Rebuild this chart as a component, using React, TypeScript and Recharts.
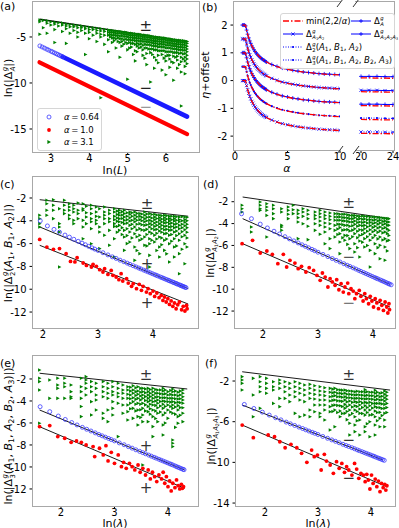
import React from 'react'
import { ComposedChart, Scatter, XAxis, YAxis, ReferenceLine } from 'recharts'

const FONT = '"DejaVu Sans", sans-serif'
const BLUE = '#0000ff'
const RED = '#ff0000'
const GREEN = '#008000'

// ---------- panel (a) ----------
const aUpper = [[2.7, -3.08], [6.58, -5.51]]
const aBlueOpenX = [2.71, 2.77, 2.83, 2.89, 2.94, 3.0, 3.04, 3.09, 3.14, 3.18, 3.22, 3.26, 3.3]
const aBlueOpenY = [-5.97, -6.09, -6.21, -6.33, -6.43, -6.55, -6.63, -6.73, -6.83, -6.91, -6.99, -7.07, -7.15]
const aBlueBand = [[3.3, -7.15], [6.55, -13.65]]
const aRedBand = [[2.7, -7.75], [6.55, -15.55]]
const aGreenCols: [number, number[]][] = [
  [2.71, [-3.15, -3.35, -4.7]],
  [2.8, [-3.2, -4.0]],
  [2.9, [-3.25, -3.5, -4.6]],
  [3.0, [-3.35, -3.7]],
  [3.1, [-3.4, -3.6, -4.2, -5.6]],
  [3.2, [-3.45, -3.8]],
  [3.3, [-3.5, -3.7, -4.4]],
  [3.4, [-3.6, -3.8, -4.1, -5.7]],
  [3.5, [-3.65, -3.9, -4.6]],
  [3.6, [-3.7, -3.9, -4.3]],
  [3.7, [-3.75, -4.0, -4.5, -5.0]],
  [3.8, [-3.8, -4.0, -4.3]],
  [3.9, [-3.9, -4.1, -4.6, -6.9]],
  [4.0, [-3.95, -4.2, -4.5, -5.2]],
  [4.1, [-4.0, -4.2, -4.8]],
  [4.2, [-4.05, -4.3, -4.6, -5.5]],
  [4.3, [-4.1, -4.35, -4.7, -5.0, -11.6]],
  [4.4, [-4.2, -4.4, -4.8, -5.8]],
  [4.5, [-4.25, -4.5, -4.8, -5.3, -6.6]],
  [4.6, [-4.3, -4.5, -4.8, -5.1, -5.6]],
  [4.7, [-4.35, -4.6, -4.85, -5.2, -6.2]],
  [4.8, [-4.4, -4.6, -4.9, -5.2, -5.6, -7.2]],
  [4.9, [-4.5, -4.7, -4.95, -5.3, -5.8]],
  [5.0, [-4.55, -4.75, -5.0, -5.3, -5.7, -6.4, -9.6]],
  [5.1, [-4.6, -4.8, -5.05, -5.35, -5.7, -6.1]],
  [5.2, [-4.65, -4.85, -5.1, -5.4, -5.8, -6.5, -7.6]],
  [5.3, [-4.7, -4.9, -5.15, -5.45, -5.8, -6.2]],
  [5.4, [-4.8, -5.0, -5.25, -5.5, -5.9, -6.4, -7.0]],
  [5.5, [-4.85, -5.05, -5.3, -5.55, -5.85, -6.2, -6.8, -8.0]],
  [5.6, [-4.9, -5.1, -5.35, -5.6, -5.9, -6.3, -6.7, -9.9]],
  [5.7, [-5.0, -5.2, -5.45, -5.7, -6.0, -6.4, -7.2, -8.4]],
  [5.8, [-5.05, -5.25, -5.5, -5.8, -6.1, -6.5, -7.0, -7.8]],
  [5.9, [-5.1, -5.3, -5.55, -5.8, -6.1, -6.5, -6.9, -8.6]],
  [6.0, [-5.15, -5.35, -5.6, -5.9, -6.2, -6.6, -7.1, -7.6, -9.1]],
  [6.1, [-5.2, -5.4, -5.65, -5.9, -6.2, -6.6, -7.0, -7.4, -8.3]],
  [6.2, [-5.3, -5.5, -5.75, -6.0, -6.3, -6.7, -7.1, -7.8, -9.7]],
  [6.3, [-5.35, -5.55, -5.8, -6.05, -6.35, -6.7, -7.1, -7.5, -8.4]],
  [6.4, [-5.4, -5.6, -5.85, -6.1, -6.4, -6.75, -7.2, -7.7, -8.8, -12.5]],
  [6.5, [-5.45, -5.65, -5.9, -6.15, -6.45, -6.8, -7.2, -7.6, -8.2, -9.0]],
  [6.55, [-5.5, -5.7, -6.0, -6.3, -6.6, -7.0, -7.4, -7.9]],
]
const aGreenDense: [number, number[]][] = [
  [4.55, [-4.3, -4.5, -4.75, -5.0]],
  [4.65, [-4.35, -4.55, -4.8, -5.1, -5.4]],
  [4.75, [-4.4, -4.6, -4.85, -5.1, -5.5]],
  [4.85, [-4.45, -4.65, -4.9, -5.2, -5.5, -6.0]],
  [4.95, [-4.5, -4.7, -4.95, -5.25, -5.6]],
  [5.05, [-4.6, -4.8, -5.05, -5.3, -5.6, -6.2]],
  [5.15, [-4.65, -4.85, -5.1, -5.35, -5.7, -6.9]],
  [5.25, [-4.7, -4.9, -5.15, -5.4, -5.7, -6.0, -6.6]],
  [5.35, [-4.75, -4.95, -5.2, -5.45, -5.75, -6.1]],
  [5.45, [-4.8, -5.0, -5.25, -5.5, -5.8, -6.2, -7.3]],
  [5.55, [-4.85, -5.05, -5.3, -5.55, -5.85, -6.3]],
  [5.65, [-4.95, -5.15, -5.4, -5.65, -5.95, -6.3, -6.9]],
  [5.75, [-5.0, -5.2, -5.45, -5.7, -6.0, -6.4, -7.5]],
  [5.85, [-5.05, -5.25, -5.5, -5.75, -6.05, -6.5]],
  [5.95, [-5.1, -5.3, -5.55, -5.8, -6.1, -6.5, -7.3]],
  [6.05, [-5.2, -5.4, -5.65, -5.9, -6.2, -6.6, -7.0]],
  [6.15, [-5.25, -5.45, -5.7, -5.95, -6.25, -6.6, -7.7]],
  [6.25, [-5.3, -5.5, -5.75, -6.0, -6.3, -6.7, -7.2]],
  [6.35, [-5.35, -5.55, -5.8, -6.1, -6.4, -6.8, -8.0]],
  [6.45, [-5.4, -5.6, -5.85, -6.15, -6.45, -6.85, -7.4]],
]
const aMarks = [
  { x: 5.47, y: -3.8, g: '±', c: '#222' },
  { x: 5.47, y: -10.58, g: '−', c: '#222' },
  { x: 5.47, y: -12.58, g: '−', c: '#999' },
]
const alphaLabels = ['0.64', '1.0', '3.1']

// ---------- panel (b) ----------
const bAlpha = [0.7, 0.8, 0.9, 1.0, 1.1, 1.2, 1.3, 1.4, 1.5, 1.6, 1.7, 1.8, 1.9, 2.0, 2.1, 2.2, 2.3, 2.4, 2.5, 2.6, 2.7, 2.8, 2.9, 3.0, 3.5, 4, 4.5, 5, 5.5, 6, 6.5, 7, 7.5, 8, 8.5, 9, 9.5, 10]
const bEtaBlue = [2.0, 2.0, 2.0, 1.97, 1.82, 1.67, 1.54, 1.43, 1.34, 1.25, 1.18, 1.11, 1.05, 1.0, 0.95, 0.91, 0.87, 0.83, 0.8, 0.77, 0.74, 0.72, 0.69, 0.67, 0.58, 0.51, 0.45, 0.41, 0.37, 0.34, 0.31, 0.29, 0.27, 0.25, 0.24, 0.23, 0.22, 0.21]
const bAlphaRed = [0.7, 0.8, 0.9, 1.0, 1.1, 1.2, 1.3, 1.4, 1.5, 1.7, 2.0, 2.3, 2.6, 3.0, 3.5, 4, 4.5, 5, 6, 7, 8, 9, 10]
const bEtaRed = [2, 2, 2, 2, 1.82, 1.67, 1.54, 1.43, 1.33, 1.18, 1.0, 0.87, 0.77, 0.67, 0.57, 0.5, 0.44, 0.4, 0.33, 0.29, 0.25, 0.22, 0.2]
const bAlphaFar = [20, 21, 22, 23, 24]
const bEtaFarBlue = [0.15, 0.15, 0.15, 0.14, 0.14]
const bEtaFarRed = [0.1, 0.095, 0.091, 0.087, 0.083]
const bOffsets = [0, -0.5, -1, -1.5, -2]

// ---------- panels (c)-(f): ln(lambda) grids for the blue points ----------
const gridC = [1.95, 2.08, 2.2, 2.3, 2.4, 2.48, 2.56, 2.64, 2.71, 2.77, 2.83, 2.89, 2.94, 3.0, 3.09, 3.18, 3.26, 3.33, 3.4, 3.47, 3.53, 3.58, 3.64, 3.69, 3.74, 3.78, 3.83, 3.87, 3.91, 3.95, 3.99, 4.03, 4.06, 4.09, 4.13, 4.16, 4.19, 4.22, 4.25, 4.28, 4.3, 4.33, 4.36, 4.38, 4.41, 4.43, 4.45, 4.48, 4.5, 4.52, 4.54, 4.56, 4.58, 4.6]
const gridDEF = [1.61, 1.79, 1.95, 2.08, 2.2, 2.3, 2.4, 2.48, 2.56, 2.64, 2.71, 2.77, 2.83, 2.89, 2.94, 3.0, 3.09, 3.18, 3.26, 3.33, 3.4, 3.47, 3.53, 3.58, 3.64, 3.69, 3.74, 3.78, 3.83, 3.87, 3.91, 3.95, 3.99, 4.03, 4.06, 4.09, 4.13, 4.16, 4.19, 4.22, 4.25, 4.28, 4.3, 4.33]

// ---------- panel (c) ----------
const cBlueY = [-4.0, -4.45, -4.75, -5.0, -5.25, -5.43, -5.62, -5.8, -5.96, -6.1, -6.24, -6.37, -6.48, -6.6, -6.8, -6.99, -7.16, -7.3, -7.45, -7.59, -7.71, -7.82, -7.94, -8.04, -8.14, -8.22, -8.32, -8.4, -8.48, -8.56, -8.64, -8.72, -8.78, -8.84, -8.92, -8.98, -9.04, -9.1, -9.16, -9.22, -9.26, -9.32, -9.38, -9.42, -9.48, -9.52, -9.56, -9.62, -9.66, -9.7, -9.74, -9.78, -9.82, -9.86]
const cFits = [[[1.94, -2.15], [4.64, -3.6]], [[1.94, -4.54], [4.64, -9.95]], [[1.94, -6.15], [4.64, -11.3]]]
const cRed = [[1.94, -5.63], [2.07, -6.3], [2.19, -6.5], [2.3, -6.44], [2.42, -6.88], [2.5, -7.56], [2.58, -7.61], [2.62, -7.23], [2.73, -7.7], [2.79, -7.91], [2.88, -8.05], [2.91, -7.82], [2.97, -7.99], [3.03, -8.29], [3.09, -8.49], [3.12, -8.2], [3.18, -8.7], [3.24, -8.35], [3.27, -8.78], [3.33, -8.93], [3.38, -9.16], [3.42, -8.64], [3.45, -9.28], [3.52, -9.08], [3.55, -9.46], [3.61, -9.75], [3.64, -9.51], [3.7, -9.95], [3.75, -9.57], [3.79, -10.1], [3.82, -9.75], [3.88, -10.25], [3.91, -9.95], [3.95, -10.39], [4.0, -10.16], [4.03, -10.63], [4.07, -10.33], [4.11, -10.74], [4.15, -10.54], [4.18, -10.98], [4.21, -10.68], [4.24, -11.12], [4.27, -10.83], [4.3, -11.33], [4.33, -11.03], [4.36, -11.5], [4.39, -11.21], [4.42, -11.71], [4.45, -11.36], [4.48, -11.12], [4.52, -11.8], [4.55, -11.5], [4.58, -11.91], [4.61, -11.42], [4.62, -11.71]]
const cGreenCols: [number, number[]][] = [
  [1.94, [-3.52, -3.81, -4.25, -4.54]],
  [2.07, [-2.2, -2.5, -3.08, -3.52]],
  [2.19, [-2.15, -2.64, -3.08, -3.81]],
  [2.3, [-2.94, -4.25, -4.54, -4.98, -8.05]],
  [2.39, [-2.2, -2.64, -3.08, -3.37]],
  [2.48, [-2.5, -2.79, -3.08, -3.52, -3.81]],
  [2.56, [-2.64, -2.94, -3.23, -3.96, -4.25]],
  [2.64, [-2.44, -3.08, -3.37, -3.81]],
  [2.73, [-2.5, -2.94, -3.08, -3.96, -4.54, -5.57]],
  [2.79, [-2.73, -3.3, -3.67, -4.25]],
  [2.88, [-2.64, -2.94, -3.37, -3.81, -4.09, -4.69, -6.01]],
  [2.97, [-2.79, -3.23, -3.61, -3.96, -4.25]],
  [3.03, [-2.94, -3.67, -4.54, -4.98, -6.44]],
  [3.12, [-2.79, -3.23, -3.52, -3.81, -4.25, -5.27]],
  [3.21, [-3.08, -3.37, -3.81, -4.09, -4.84, -6.15]],
  [3.3, [-2.94, -3.23, -3.61, -3.9, -4.25, -4.49, -5.57, -7.18]],
  [3.39, [-3.08, -3.3, -3.52, -3.81, -4.09, -4.4, -4.84]],
  [3.48, [-3.08, -3.37, -3.67, -3.96, -4.25, -4.84, -5.42, -6.59]],
  [3.58, [-3.23, -3.43, -3.73, -4.02, -4.4, -4.98, -5.86]],
  [3.67, [-3.23, -3.52, -3.81, -4.09, -4.54, -5.13, -6.3, -7.47]],
  [3.76, [-3.37, -3.61, -3.9, -4.25, -4.69, -5.27, -5.71, -6.88]],
  [3.85, [-3.23, -3.52, -3.81, -4.09, -4.4, -4.84, -5.42, -6.15]],
  [3.94, [-3.37, -3.67, -3.96, -4.25, -4.54, -4.98, -5.57, -6.01, -7.03, -8.05]],
  [4.03, [-3.43, -3.67, -3.9, -4.19, -4.49, -4.78, -5.27, -5.86]],
  [4.12, [-3.52, -3.73, -3.96, -4.25, -4.54, -4.9, -5.42, -6.3, -7.18]],
  [4.21, [-3.52, -3.73, -3.96, -4.19, -4.49, -4.78, -5.13, -5.71, -6.59]],
  [4.3, [-3.61, -3.81, -4.02, -4.25, -4.54, -4.84, -5.27, -6.01, -7.61]],
  [4.39, [-3.61, -3.81, -4.02, -4.31, -4.6, -4.98, -5.57, -6.3, -7.18]],
  [4.48, [-3.67, -3.9, -4.09, -4.4, -4.69, -5.13, -5.71, -6.88, -8.64]],
  [4.58, [-3.67, -3.9, -4.13, -4.43, -4.78, -5.27, -6.01, -7.76]],
]
const cGreenDense: [number, number[]][] = [
  [3.35, [-3.15, -3.45, -3.75, -4.05, -4.5, -5.0]],
  [3.44, [-3.2, -3.5, -3.8, -4.15, -4.6, -5.2]],
  [3.53, [-3.3, -3.6, -3.9, -4.2, -4.7, -5.3, -6.0]],
  [3.62, [-3.3, -3.6, -3.95, -4.3, -4.7, -5.5]],
  [3.71, [-3.35, -3.65, -3.95, -4.3, -4.8, -5.4, -6.6]],
  [3.8, [-3.4, -3.7, -4.0, -4.35, -4.8, -5.6]],
  [3.89, [-3.4, -3.7, -4.0, -4.35, -4.75, -5.2, -6.2]],
  [3.98, [-3.45, -3.75, -4.05, -4.35, -4.7, -5.1, -5.7]],
  [4.07, [-3.5, -3.8, -4.1, -4.4, -4.75, -5.1, -5.6, -6.6]],
  [4.16, [-3.55, -3.85, -4.1, -4.4, -4.7, -5.0, -5.5, -6.1]],
  [4.25, [-3.55, -3.85, -4.15, -4.45, -4.75, -5.1, -5.6, -6.9]],
  [4.34, [-3.6, -3.9, -4.2, -4.5, -4.8, -5.2, -5.8]],
  [4.43, [-3.65, -3.95, -4.25, -4.55, -4.9, -5.3, -6.2]],
  [4.53, [-3.65, -4.0, -4.3, -4.6, -4.95, -5.4, -6.5]],
  [4.62, [-3.7, -4.0, -4.3, -4.6, -5.0, -5.5, -6.3]],
]
const cMarks = [
  { x: 3.89, y: -2.5, g: '±', c: '#333' },
  { x: 3.89, y: -7.82, g: '+', c: '#333' },
  { x: 3.89, y: -11.25, g: '+', c: '#333' },
]

// ---------- panel (d) ----------
const dBlueY = [-3.1, -3.55, -4.05, -4.4, -4.7, -4.95, -5.2, -5.4, -5.58, -5.77, -5.94, -6.08, -6.22, -6.36, -6.48, -6.62, -6.82, -7.02, -7.2, -7.36, -7.51, -7.67, -7.81, -7.92, -8.05, -8.16, -8.28, -8.37, -8.48, -8.57, -8.66, -8.75, -8.84, -8.93, -9.0, -9.06, -9.15, -9.22, -9.28, -9.35, -9.42, -9.49, -9.53, -9.6]
const dFits = [[[1.63, -1.57], [4.31, -3.55]], [[1.63, -3.55], [4.31, -9.56]], [[1.63, -5.84], [4.31, -11.64]]]
const dRed = [[1.62, -5.84], [1.81, -5.53], [1.95, -6.69], [2.07, -6.51], [2.17, -6.81], [2.27, -7.67], [2.37, -6.81], [2.43, -7.97], [2.49, -7.36], [2.58, -7.61], [2.64, -8.12], [2.7, -7.91], [2.78, -8.43], [2.84, -8.03], [2.92, -8.28], [2.98, -8.73], [3.04, -9.19], [3.08, -8.52], [3.13, -8.89], [3.18, -9.8], [3.22, -9.04], [3.26, -9.34], [3.31, -9.65], [3.34, -9.13], [3.38, -10.05], [3.42, -9.5], [3.46, -10.26], [3.49, -9.8], [3.54, -9.44], [3.56, -10.41], [3.6, -9.95], [3.64, -10.17], [3.67, -10.87], [3.7, -10.41], [3.75, -10.11], [3.78, -10.65], [3.82, -11.08], [3.85, -10.41], [3.88, -10.87], [3.92, -11.33], [3.95, -10.65], [3.98, -11.08], [4.01, -11.63], [4.04, -10.87], [4.07, -11.26], [4.1, -11.78], [4.13, -11.02], [4.16, -11.48], [4.19, -11.94], [4.22, -11.17], [4.25, -11.63], [4.27, -12.18], [4.29, -11.33], [4.3, -11.87]]
const dGreenCols: [number, number[]][] = [
  [1.62, [-2.33, -2.64, -2.94]],
  [1.79, [-4.31, -4.77]],
  [1.95, [-2.03, -2.33, -2.64, -2.79]],
  [2.07, [-2.18, -2.48, -2.79, -3.25, -5.23]],
  [2.19, [-2.33, -2.64, -3.09, -3.55]],
  [2.34, [-2.64, -2.94, -4.16, -4.31, -4.62]],
  [2.46, [-2.48, -2.79, -3.15, -3.55]],
  [2.55, [-2.33, -2.73, -3.09]],
  [2.64, [-2.79, -3.09, -3.46, -3.86, -5.38]],
  [2.73, [-2.64, -2.94, -3.34, -4.01]],
  [2.82, [-2.79, -3.15, -3.55, -4.25, -5.47]],
  [2.95, [-2.94, -3.25, -3.55, -4.01, -4.62]],
  [3.04, [-2.79, -3.09, -3.4, -3.76, -4.16, -4.98]],
  [3.13, [-2.94, -3.25, -3.55, -3.95, -4.31, -4.77, -5.84]],
  [3.22, [-3.03, -3.34, -3.64, -4.01, -4.47, -5.38, -6.29]],
  [3.31, [-3.09, -3.4, -3.7, -4.16, -4.62, -5.23]],
  [3.4, [-3.15, -3.4, -3.7, -4.07, -4.37, -4.92, -5.69, -6.75]],
  [3.49, [-3.15, -3.46, -3.76, -4.16, -4.56, -5.08, -5.53]],
  [3.58, [-3.25, -3.55, -3.86, -4.25, -4.68, -5.38, -6.29]],
  [3.67, [-3.25, -3.46, -3.76, -4.07, -4.47, -4.92, -5.84, -6.6]],
  [3.76, [-3.34, -3.55, -3.86, -4.16, -4.56, -5.08, -5.59, -7.06]],
  [3.85, [-3.34, -3.58, -3.86, -4.16, -4.47, -4.86, -5.38, -6.14]],
  [3.95, [-3.4, -3.64, -3.89, -4.19, -4.56, -4.98, -5.53, -6.45, -7.97]],
  [4.04, [-3.4, -3.64, -3.92, -4.25, -4.62, -5.08, -5.84, -6.75]],
  [4.13, [-3.46, -3.7, -3.95, -4.31, -4.68, -5.23, -5.99, -7.21]],
  [4.22, [-3.52, -3.76, -4.01, -4.37, -4.77, -5.38, -6.14, -7.36]],
  [4.29, [-3.55, -3.86, -4.16, -4.62, -5.08, -5.53]],
]
const dGreenDense: [number, number[]][] = [
  [3.36, [-3.1, -3.4, -3.7, -4.05, -4.5, -5.0]],
  [3.45, [-3.15, -3.45, -3.75, -4.1, -4.6, -5.3]],
  [3.54, [-3.2, -3.5, -3.8, -4.15, -4.55, -5.1, -5.9]],
  [3.63, [-3.25, -3.55, -3.85, -4.2, -4.6, -5.2]],
  [3.72, [-3.3, -3.6, -3.9, -4.25, -4.7, -5.3, -6.2]],
  [3.81, [-3.3, -3.6, -3.9, -4.2, -4.6, -5.0, -5.7]],
  [3.9, [-3.35, -3.65, -3.95, -4.3, -4.7, -5.2, -6.0]],
  [4.0, [-3.4, -3.7, -4.0, -4.35, -4.75, -5.3]],
  [4.09, [-3.45, -3.75, -4.05, -4.4, -4.8, -5.4, -6.2]],
  [4.18, [-3.5, -3.8, -4.1, -4.45, -4.85, -5.5]],
  [4.26, [-3.55, -3.85, -4.15, -4.5, -4.9, -5.6, -6.5]],
]
const dMarks = [
  { x: 3.56, y: -2.15, g: '±', c: '#333' },
  { x: 3.56, y: -7.03, g: '−', c: '#555' },
  { x: 3.56, y: -11.3, g: '−', c: '#777' },
]

// ---------- panel (e) ----------
const eBlueY = [-4.52, -4.97, -5.37, -5.68, -5.96, -6.18, -6.4, -6.57, -6.73, -6.9, -7.05, -7.17, -7.29, -7.41, -7.51, -7.63, -7.81, -7.98, -8.15, -8.29, -8.44, -8.58, -8.7, -8.8, -8.92, -9.02, -9.12, -9.2, -9.3, -9.38, -9.46, -9.54, -9.62, -9.7, -9.76, -9.82, -9.9, -9.97, -10.03, -10.09, -10.15, -10.21, -10.25]
const eFits = [[[1.6, -1.48], [4.36, -2.91]], [[1.6, -4.82], [4.31, -10.27]], [[1.6, -6.34], [4.31, -11.94]]]
const eRed = [[1.6, -6.33], [1.79, -6.24], [1.94, -7.24], [2.07, -7.39], [2.19, -7.76], [2.29, -7.64], [2.38, -7.76], [2.47, -8.0], [2.6, -8.15], [2.63, -9.06], [2.72, -8.3], [2.79, -8.91], [2.84, -8.06], [2.88, -9.45], [2.94, -8.67], [3.0, -9.67], [3.07, -8.91], [3.13, -9.97], [3.17, -9.58], [3.22, -10.12], [3.28, -9.67], [3.33, -9.97], [3.38, -10.27], [3.44, -9.82], [3.48, -10.48], [3.53, -10.12], [3.58, -10.73], [3.63, -10.27], [3.67, -11.09], [3.71, -10.48], [3.75, -10.88], [3.79, -11.33], [3.83, -10.73], [3.88, -11.09], [3.91, -10.48], [3.94, -11.48], [3.97, -10.88], [4.0, -11.79], [4.03, -11.27], [4.06, -12.18], [4.09, -11.48], [4.13, -11.88], [4.16, -11.18], [4.19, -11.7], [4.22, -12.0], [4.25, -11.58], [4.27, -11.94], [4.29, -11.79]]
const eGreenCols: [number, number[]][] = [
  [1.6, [-1.18, -1.94, -2.24, -3.0, -6.03]],
  [1.79, [-2.09, -3.76]],
  [1.94, [-1.94, -2.55, -2.85, -3.76]],
  [2.07, [-1.94, -2.39, -2.7, -3.76]],
  [2.19, [-2.55, -3.15, -3.61, -3.76]],
  [2.38, [-1.94, -2.7, -3.15, -3.76, -4.5, -5.42]],
  [2.47, [-1.79, -2.09, -2.39, -2.85, -3.45]],
  [2.57, [-2.24, -2.7, -3.15, -4.06, -5.27]],
  [2.66, [-2.39, -2.85, -3.45, -3.91, -4.82]],
  [2.79, [-2.24, -2.7, -3.15, -3.61, -5.12, -5.58]],
  [2.88, [-2.39, -2.85, -3.3, -3.76, -4.82, -5.88]],
  [2.97, [-2.24, -2.7, -3.15, -3.45, -4.06, -4.67, -5.27]],
  [3.07, [-2.39, -2.85, -3.3, -3.61, -4.21, -7.24]],
  [3.16, [-2.55, -3.0, -3.3, -3.76, -4.36, -5.12]],
  [3.25, [-2.7, -3.0, -3.39, -3.76, -4.36, -4.97, -5.73]],
  [3.35, [-2.61, -3.0, -3.3, -3.7, -4.06, -4.67, -5.58]],
  [3.44, [-2.7, -3.09, -3.39, -3.76, -4.21, -4.82, -5.42, -6.18]],
  [3.53, [-2.85, -3.15, -3.45, -3.76, -4.21, -4.67, -5.27, -5.88, -9.82]],
  [3.63, [-2.85, -3.15, -3.45, -3.76, -4.06, -4.5, -4.97, -5.88]],
  [3.72, [-2.85, -3.15, -3.45, -3.76, -4.06, -4.36, -4.82, -5.42, -6.33, -7.24]],
  [3.81, [-3.0, -3.3, -3.61, -3.91, -4.21, -4.61, -5.12, -5.88]],
  [3.91, [-2.85, -3.09, -3.39, -3.7, -4.0, -4.3, -4.67, -5.27, -6.18, -7.09]],
  [4.0, [-3.15, -3.45, -3.76, -4.06, -4.36, -4.82, -5.58]],
  [4.09, [-2.91, -3.15, -3.45, -3.76, -4.06, -4.36, -4.67, -5.12, -7.55, -7.85, -8.15]],
  [4.19, [-3.21, -3.52, -3.82, -4.12, -4.42, -4.82, -5.42, -6.03]],
  [4.28, [-3.0, -3.3, -3.61, -3.91, -4.21, -4.61, -5.12, -5.88]],
]
const eGreenDense: [number, number[]][] = [
  [3.3, [-2.75, -3.1, -3.45, -3.8, -4.2, -4.7]],
  [3.4, [-2.8, -3.15, -3.5, -3.85, -4.3, -4.9]],
  [3.49, [-2.85, -3.2, -3.55, -3.9, -4.3, -4.8, -5.5]],
  [3.58, [-2.9, -3.25, -3.6, -3.95, -4.35, -4.9]],
  [3.67, [-2.95, -3.3, -3.6, -3.95, -4.3, -4.7, -5.2]],
  [3.77, [-2.95, -3.3, -3.65, -4.0, -4.4, -4.9, -5.6]],
  [3.86, [-3.0, -3.35, -3.7, -4.05, -4.45, -5.0]],
  [3.95, [-3.0, -3.35, -3.7, -4.05, -4.5, -5.1, -6.0]],
  [4.05, [-3.05, -3.4, -3.75, -4.1, -4.5, -5.0]],
  [4.14, [-3.1, -3.45, -3.8, -4.15, -4.55, -5.2, -6.4]],
  [4.23, [-3.1, -3.45, -3.8, -4.15, -4.6, -5.3]],
]
const eMarks = [
  { x: 3.59, y: -1.64, g: '±', c: '#333' },
  { x: 3.59, y: -8.1, g: '+', c: '#333' },
  { x: 3.59, y: -11.9, g: '+', c: '#333' },
]

// ---------- panel (f) ----------
const fBlueY = [-4.3, -4.7, -5.06, -5.35, -5.61, -5.82, -6.04, -6.21, -6.37, -6.53, -6.67, -6.8, -6.92, -7.04, -7.14, -7.26, -7.45, -7.63, -7.79, -7.93, -8.07, -8.22, -8.34, -8.44, -8.56, -8.66, -8.77, -8.85, -8.95, -9.03, -9.11, -9.19, -9.27, -9.35, -9.41, -9.48, -9.56, -9.62, -9.68, -9.74, -9.8]
const fFits = [[[1.57, -1.09], [4.36, -2.89]], [[1.57, -4.36], [4.23, -9.77]], [[1.57, -6.33], [4.3, -12.4]]]
const fRed = [[1.57, -6.33], [1.78, -7.57], [2.06, -7.31], [2.18, -7.48], [2.28, -7.97], [2.38, -8.56], [2.49, -8.23], [2.6, -8.56], [2.69, -9.11], [2.79, -10.0], [2.88, -8.79], [2.93, -9.44], [2.99, -9.28], [3.06, -10.75], [3.12, -9.21], [3.16, -9.87], [3.23, -10.26], [3.29, -11.08], [3.35, -9.93], [3.4, -10.59], [3.45, -10.1], [3.5, -10.98], [3.54, -10.43], [3.58, -10.75], [3.64, -11.25], [3.69, -10.1], [3.73, -10.66], [3.77, -11.57], [3.81, -11.08], [3.86, -11.25], [3.89, -11.9], [3.92, -11.18], [3.95, -11.74], [3.98, -12.62], [4.01, -11.25], [4.04, -12.07], [4.08, -11.64], [4.11, -12.39], [4.14, -11.84], [4.17, -12.88], [4.2, -12.07], [4.23, -12.49], [4.26, -12.16], [4.28, -12.72], [4.3, -12.3]]
const fGreenCols: [number, number[]][] = [
  [1.57, [-1.57, -1.9, -2.23, -2.89]],
  [1.78, [-1.74, -3.38, -5.51]],
  [1.91, [-1.57, -2.07, -2.56, -3.05, -4.69]],
  [2.03, [-1.74, -2.23, -2.72, -3.21]],
  [2.16, [-2.07, -2.56, -2.89, -4.2]],
  [2.28, [-1.9, -2.23, -2.72, -3.71, -4.52]],
  [2.38, [-2.07, -2.56, -3.05, -3.71]],
  [2.47, [-2.23, -2.72, -3.38, -4.03]],
  [2.57, [-2.07, -2.56, -3.05, -3.54, -5.18]],
  [2.66, [-2.23, -2.72, -3.21, -3.87, -5.51]],
  [2.75, [-2.39, -2.89, -3.38, -4.03, -5.35]],
  [2.85, [-2.33, -2.72, -3.21, -3.71, -4.85, -5.51]],
  [2.94, [-2.46, -2.89, -3.31, -3.77, -4.36, -5.02]],
  [3.04, [-2.56, -2.98, -3.38, -3.87, -4.36, -5.18, -5.51]],
  [3.13, [-2.66, -3.05, -3.44, -3.87, -4.36, -4.85, -5.84]],
  [3.23, [-2.72, -3.11, -3.54, -3.97, -4.52, -5.02, -6.82]],
  [3.32, [-2.72, -3.11, -3.44, -3.87, -4.36, -4.85, -6.49]],
  [3.42, [-2.89, -3.21, -3.54, -3.97, -4.43, -4.95, -5.51]],
  [3.51, [-2.89, -3.21, -3.54, -3.87, -4.3, -4.69, -5.18]],
  [3.6, [-2.98, -3.31, -3.64, -3.97, -4.36, -4.85, -5.35, -6.16, -7.31]],
  [3.7, [-3.05, -3.38, -3.71, -4.03, -4.43, -4.85, -5.51, -6.33, -6.98]],
  [3.79, [-3.05, -3.38, -3.71, -4.03, -4.36, -4.75, -5.18, -5.84, -7.31]],
  [3.89, [-2.85, -3.11, -3.44, -3.77, -4.1, -4.43, -4.85, -5.35, -6.49, -6.98]],
  [3.98, [-3.11, -3.44, -3.77, -4.1, -4.43, -4.85, -5.35, -6.0, -7.48]],
  [4.08, [-2.92, -3.21, -3.54, -3.87, -4.2, -4.52, -4.95, -5.51, -6.33, -7.31]],
  [4.17, [-3.21, -3.54, -3.87, -4.2, -4.62, -5.08, -5.67, -6.49]],
  [4.26, [-2.98, -3.31, -3.64, -3.97, -4.3, -4.69, -5.18, -5.84, -6.49]],
]
const fGreenDense: [number, number[]][] = [
  [3.28, [-2.8, -3.15, -3.5, -3.9, -4.4, -5.0]],
  [3.37, [-2.85, -3.2, -3.55, -3.95, -4.4, -5.1]],
  [3.46, [-2.9, -3.25, -3.6, -4.0, -4.5, -5.2]],
  [3.55, [-2.95, -3.3, -3.65, -4.05, -4.5, -5.0, -5.8]],
  [3.65, [-3.0, -3.35, -3.7, -4.1, -4.55, -5.2]],
  [3.74, [-3.0, -3.35, -3.7, -4.1, -4.5, -5.0, -5.9]],
  [3.84, [-3.05, -3.4, -3.75, -4.15, -4.6, -5.2]],
  [3.93, [-3.05, -3.4, -3.75, -4.15, -4.6, -5.1, -6.2]],
  [4.03, [-3.1, -3.45, -3.8, -4.2, -4.65, -5.3]],
  [4.12, [-3.1, -3.45, -3.8, -4.2, -4.6, -5.1, -5.9]],
  [4.21, [-3.15, -3.5, -3.85, -4.25, -4.7, -5.4]],
  [4.3, [-3.1, -3.45, -3.8, -4.2, -4.6, -5.1]],
]
const fMarks = [
  { x: 3.58, y: -1.4, g: '±', c: '#333' },
  { x: 3.58, y: -7.8, g: '−', c: '#333' },
  { x: 3.58, y: -11.5, g: '−', c: '#333' },
]

// ---------- helpers ----------
type P = { x: number; y: number }
const zip = (xs: number[], ys: number[], dy = 0): P[] => xs.map((x, i) => ({ x, y: ys[i] + dy }))
const pairs = (p: number[][]): P[] => p.map(([x, y]) => ({ x, y }))
const cols = (c: [number, number[]][]): P[] => c.flatMap(([x, ys]) => ys.map((y) => ({ x, y })))

const openCircle = (p: any) => <circle cx={p.cx} cy={p.cy} r={2} fill="none" stroke="#3a3aff" strokeWidth={0.8} />
const redDot = (p: any) => <circle cx={p.cx} cy={p.cy} r={1.9} fill={RED} />
const greenTri = (p: any) => (
  <polygon points={`${p.cx - 1.5},${p.cy - 1.8} ${p.cx + 1.9},${p.cy} ${p.cx - 1.5},${p.cy + 1.8}`} fill={GREEN} />
)
const noDot = () => <g />
const plusMark = (p: any) => (
  <path d={`M${p.cx - 2},${p.cy}H${p.cx + 2}M${p.cx},${p.cy - 2}V${p.cy + 2}`} stroke={BLUE} strokeWidth={0.8} />
)
const xMark = (p: any) => (
  <path d={`M${p.cx - 1.6},${p.cy - 1.6}L${p.cx + 1.6},${p.cy + 1.6}M${p.cx - 1.6},${p.cy + 1.6}L${p.cx + 1.6},${p.cy - 1.6}`} stroke={BLUE} strokeWidth={0.8} />
)
const dotMark = (p: any) => <circle cx={p.cx} cy={p.cy} r={1.1} fill={BLUE} />
const glyph = (p: any) => {
  const d = p.payload ?? p
  return (
    <text x={p.cx} y={p.cy} textAnchor="middle" dominantBaseline="central" fontSize={15} fill={d.c} stroke="none" fontFamily={FONT}>
      {d.g}
    </text>
  )
}

type PanelProps = {
  x0: number
  y0: number
  x1: number
  y1: number
  xDomain: [number, number]
  yDomain: [number, number]
  xTicks: number[]
  yTicks?: number[]
  frame?: string
  children?: React.ReactNode
}

function Panel({ x0, y0, x1, y1, xDomain, yDomain, xTicks, yTicks, frame = 'tlbr', children }: PanelProps) {
  const yw = yTicks ? 30 : 0
  const xh = 16
  const mr = 9
  const tick = { fontSize: 10, fill: '#000', fontFamily: FONT }
  const bw = (s: string) => (frame.includes(s) ? 1.3 : 0)
  return (
    <div style={{ position: 'absolute', left: x0 - yw, top: y0 - 2 }}>
      <ComposedChart width={x1 - x0 + yw + mr} height={y1 - y0 + xh + 2} margin={{ top: 2, right: mr, bottom: 0, left: 0 }}>
        <XAxis dataKey="x" type="number" domain={xDomain} ticks={xTicks} allowDataOverflow interval={0} height={xh}
          axisLine={false} tickSize={3} tickMargin={0} tickLine={{ stroke: '#000' }} tick={tick} />
        <YAxis dataKey="y" type="number" domain={yDomain} ticks={yTicks} allowDataOverflow interval={0} width={yw}
          hide={!yTicks} axisLine={false} tickSize={3.5} tickMargin={3} tickLine={{ stroke: '#000' }} tick={tick} />
        {children}
      </ComposedChart>
      <div
        style={{
          position: 'absolute',
          left: yw - 0.6,
          top: 2 - 0.6,
          width: x1 - x0 + 1.2,
          height: y1 - y0 + 1.2,
          boxSizing: 'border-box',
          borderStyle: 'solid',
          borderColor: '#a8a8a8',
          borderWidth: `${bw('t')}px ${bw('r')}px ${bw('b')}px ${bw('l')}px`,
          pointerEvents: 'none',
        }}
      />
    </div>
  )
}

// series for the four lambda panels
function lambdaSeries(grid: number[], blueY: number[], red: number[][], green: P[], fits: number[][][], marks: any[]) {
  return [
    <Scatter key="g" data={green} shape={greenTri} isAnimationActive={false} />,
    <Scatter key="b" data={zip(grid.slice(0, blueY.length), blueY)} shape={openCircle} isAnimationActive={false} />,
    <Scatter key="r" data={pairs(red)} shape={redDot} isAnimationActive={false} />,
    ...fits.map((f, i) => (
      <ReferenceLine key={'f' + i} segment={pairs(f)} stroke="#000" strokeWidth={0.9} ifOverflow="visible" />
    )),
    <Scatter key="m" data={marks} shape={glyph} isAnimationActive={false} />,
  ]
}

// math-like text helpers
const Sub = ({ children }: { children: React.ReactNode }) => (
  <span style={{ fontSize: '0.7em', position: 'relative', top: '0.25em' }}>{children}</span>
)
const SS = ({ sup, sub }: { sup: React.ReactNode; sub: React.ReactNode }) => (
  <span style={{ display: 'inline-block', position: 'relative', fontSize: '0.62em', lineHeight: 1, marginLeft: 0.5 }}>
    <span style={{ position: 'absolute', left: 0, top: '-0.7em' }}>{sup}</span>
    <span style={{ position: 'relative', top: '0.4em' }}>{sub}</span>
  </span>
)
const I = ({ children }: { children: React.ReactNode }) => <i>{children}</i>
const A = (n: number) => (
  <>
    <I>A</I>
    <Sub>{n}</Sub>
  </>
)
const B = (n: number) => (
  <>
    <I>B</I>
    <Sub>{n}</Sub>
  </>
)

function YLabel({ cx, cy, size = 11, children }: { cx: number; cy: number; size?: number; children: React.ReactNode }) {
  return (
    <div style={{ position: 'absolute', left: cx, top: cy, transform: 'translate(-50%, -50%) rotate(-90deg)', whiteSpace: 'nowrap', fontSize: size, lineHeight: 1, fontFamily: FONT }}>
      {children}
    </div>
  )
}
function Label({ x, y, size = 11, children }: { x: number; y: number; size?: number; children: React.ReactNode }) {
  return (
    <div style={{ position: 'absolute', left: x, top: y, transform: 'translate(-50%, -50%)', whiteSpace: 'nowrap', fontSize: size, lineHeight: 1, fontFamily: FONT }}>
      {children}
    </div>
  )
}
function Tag({ x, y, t }: { x: number; y: number; t: string }) {
  return <div style={{ position: 'absolute', left: x, top: y, fontSize: 11, lineHeight: 1, fontFamily: FONT }}>{t}</div>
}

const bMarkers = [plusMark, xMark, plusMark, dotMark, xMark]
const bDash = ['', '', '', '1 1.5', '1 1.5']

const bLegendRows = [
  { x: 2, y: 2, m: 'red', t: <>min(2,2/<I>α</I>)</> },
  { x: 70, y: 2, m: 'plus', t: <>Δ<SS sup={<I>g</I>} sub={<I>A</I>} /></> },
  { x: 2, y: 15, m: 'x', t: <>Δ<SS sup={<I>g</I>} sub={<>{A(1)}{A(2)}</>} /></> },
  { x: 70, y: 15, m: 'plus', t: <>Δ<SS sup={<I>g</I>} sub={<>{A(1)}{A(2)}{A(3)}</>} /></> },
  { x: 2, y: 28, m: 'dot', t: <>Δ<SS sup={<I>g</I>} sub="2" />({A(1)}, {B(1)}, {A(2)})</> },
  { x: 2, y: 41, m: 'dot', t: <>Δ<SS sup={<I>g</I>} sub="3" />({A(1)}, {B(1)}, {A(2)}, {B(2)}, {A(3)})</> },
]

export default function App() {
  return (
    <div style={{ position: 'absolute', left: 0, top: 0, width: 399, height: 528, background: '#fff', fontFamily: FONT, overflow: 'hidden' }}>
      {/* (a) */}
      <Panel x0={33} y0={2} x1={199} y1={152} xDomain={[2.53, 6.86]} yDomain={[-17.5, -1.2]} xTicks={[3, 4, 5, 6]} yTicks={[-15, -10, -5]}>
        <Scatter data={[...cols(aGreenCols), ...cols(aGreenDense)]} shape={greenTri} isAnimationActive={false} />
        <Scatter data={pairs(aBlueBand)} shape={noDot} line={{ stroke: '#1a1aff', strokeWidth: 4.6, strokeLinecap: 'round' }} isAnimationActive={false} />
        <Scatter data={zip(aBlueOpenX, aBlueOpenY)} shape={openCircle} isAnimationActive={false} />
        <Scatter data={pairs(aRedBand)} shape={noDot} line={{ stroke: RED, strokeWidth: 4.2, strokeLinecap: 'round' }} isAnimationActive={false} />
        <ReferenceLine segment={pairs(aUpper)} stroke="#000" strokeWidth={1.4} ifOverflow="visible" />
        <Scatter data={aMarks} shape={glyph} isAnimationActive={false} />
      </Panel>

      {/* (b) left part */}
      <Panel x0={234} y0={2} x1={340} y1={150} xDomain={[-0.1, 10]} yDomain={[-2.5, 2.83]} xTicks={[0, 5, 10]} yTicks={[-2, -1, 0, 1, 2]} frame="tlb">
        {bOffsets.map((o, i) => (
          <Scatter key={'bb' + i} data={zip(bAlpha, bEtaBlue, o)} shape={bMarkers[i]} line={{ stroke: BLUE, strokeWidth: 1, strokeDasharray: bDash[i] }} isAnimationActive={false} />
        ))}
        {bOffsets.map((o, i) => (
          <Scatter key={'br' + i} data={zip(bAlphaRed, bEtaRed, o)} shape={noDot} line={{ stroke: RED, strokeWidth: 1.3, strokeDasharray: '6 2 1.5 2' }} isAnimationActive={false} />
        ))}
      </Panel>
      {/* (b) right part */}
      <Panel x0={356} y0={2} x1={394} y1={150} xDomain={[19.375, 24.125]} yDomain={[-2.5, 2.83]} xTicks={[20, 24]} frame="trb">
        {bOffsets.map((o, i) => (
          <Scatter key={'fb' + i} data={zip(bAlphaFar, bEtaFarBlue, o)} shape={bMarkers[i]} line={{ stroke: BLUE, strokeWidth: 1, strokeDasharray: bDash[i] }} isAnimationActive={false} />
        ))}
        {bOffsets.map((o, i) => (
          <Scatter key={'fr' + i} data={zip(bAlphaFar, bEtaFarRed, o)} shape={noDot} line={{ stroke: RED, strokeWidth: 1.3, strokeDasharray: '6 2 1.5 2' }} isAnimationActive={false} />
        ))}
      </Panel>
      <svg style={{ position: 'absolute', left: 330, top: 0 }} width={40} height={160}>
        {[[10, 3], [26, 3], [10, 150], [26, 150]].map(([x, y], i) => (
          <line key={i} x1={x - 3} y1={y + 4} x2={x + 3} y2={y - 4} stroke="#333" strokeWidth={1} />
        ))}
      </svg>

      {/* (c) */}
      <Panel x0={33} y0={177} x1={198} y1={328} xDomain={[1.818, 4.818]} yDomain={[-13.4, -0.16]} xTicks={[2, 3, 4]} yTicks={[-12, -10, -8, -6, -4, -2]}>
        {lambdaSeries(gridC, cBlueY, cRed, [...cols(cGreenCols), ...cols(cGreenDense)], cFits, cMarks)}
      </Panel>
      {/* (d) */}
      <Panel x0={235} y0={177} x1={395} y1={328} xDomain={[1.491, 4.4]} yDomain={[-13.55, 0.26]} xTicks={[2, 3, 4]} yTicks={[-12, -10, -8, -6, -4, -2]}>
        {lambdaSeries(gridDEF, dBlueY, dRed, [...cols(dGreenCols), ...cols(dGreenDense)], dFits, dMarks)}
      </Panel>
      {/* (e) */}
      <Panel x0={33} y0={356} x1={198} y1={506} xDomain={[1.477, 4.561]} yDomain={[-13.55, 0.09]} xTicks={[2, 3, 4]} yTicks={[-12, -10, -8, -6, -4, -2]}>
        {lambdaSeries(gridDEF, eBlueY, eRed, [...cols(eGreenCols), ...cols(eGreenDense)], eFits, eMarks)}
      </Panel>
      {/* (f) */}
      <Panel x0={236} y0={356} x1={395} y1={506} xDomain={[1.453, 4.453]} yDomain={[-14.29, 0.46]} xTicks={[2, 3, 4]} yTicks={[-14, -10, -6, -2]}>
        {lambdaSeries(gridDEF, fBlueY, fRed, [...cols(fGreenCols), ...cols(fGreenDense)], fFits, fMarks)}
      </Panel>

      {/* legend (a) */}
      <div style={{ position: 'absolute', left: 37, top: 108, width: 63, height: 41, border: '1px solid #d6d6d6', borderRadius: 3, background: '#fff', fontSize: 8.5 }}>
        {alphaLabels.map((v, i) => (
          <div key={v} style={{ position: 'absolute', left: 6, top: 3 + i * 12.5, height: 10, display: 'flex', alignItems: 'center' }}>
            <svg width={10} height={10}>
              {i === 0 && <circle cx={5} cy={5} r={2} fill="none" stroke="#3a3aff" strokeWidth={0.8} />}
              {i === 1 && <circle cx={5} cy={5} r={1.9} fill={RED} />}
              {i === 2 && <polygon points="3.4,3.1 7,5 3.4,6.9" fill={GREEN} />}
            </svg>
            <span style={{ marginLeft: 10 }}>
              <I>α</I>&thinsp;=&thinsp;{v}
            </span>
          </div>
        ))}
      </div>

      {/* legend (b) */}
      <div style={{ position: 'absolute', left: 280, top: 13, width: 113, height: 54, border: '1px solid #d6d6d6', borderRadius: 3, background: 'rgba(255,255,255,0.9)', fontSize: 8.5, lineHeight: 1 }}>
        {bLegendRows.map((r, i) => (
          <div key={i} style={{ position: 'absolute', left: r.x, top: r.y, height: 10, display: 'flex', alignItems: 'center', whiteSpace: 'nowrap' }}>
            <svg width={20} height={10}>
              {r.m === 'red' ? (
                <line x1={0} y1={5} x2={20} y2={5} stroke={RED} strokeWidth={1.3} strokeDasharray="6 2 1.5 2" />
              ) : (
                <line x1={0} y1={5} x2={20} y2={5} stroke={BLUE} strokeWidth={1} strokeDasharray={r.m === 'dot' ? '1 1.5' : undefined} />
              )}
              {r.m === 'plus' && <path d="M8,5H12M10,3V7" stroke={BLUE} strokeWidth={0.8} />}
              {r.m === 'x' && <path d="M8.4,3.4L11.6,6.6M8.4,6.6L11.6,3.4" stroke={BLUE} strokeWidth={0.8} />}
              {r.m === 'dot' && <circle cx={10} cy={5} r={1.1} fill={BLUE} />}
            </svg>
            <span style={{ marginLeft: 3 }}>{r.t}</span>
          </div>
        ))}
      </div>

      {/* axis labels */}
      <YLabel cx={8} cy={78}>ln(|Δ<SS sup={<I>g</I>} sub={<I>A</I>} />|)</YLabel>
      <Label x={115} y={170}>ln(<I>L</I>)</Label>
      <YLabel cx={205} cy={75}><I>η</I>+offset</YLabel>
      <Label x={287} y={168}><I>α</I></Label>
      <YLabel cx={8} cy={253}>ln(|Δ<SS sup={<I>g</I>} sub="2" />({A(1)}, {B(1)}, {A(2)})|)</YLabel>
      <YLabel cx={210} cy={253}>ln(|Δ<SS sup={<I>g</I>} sub={<>{A(1)}{A(2)}</>} />|)</YLabel>
      <YLabel cx={8} cy={436}>ln(|Δ<SS sup={<I>g</I>} sub="3" />({A(1)}, {B(1)}, {A(2)}, {B(2)}, {A(3)})|)</YLabel>
      <YLabel cx={211} cy={436}>ln(|Δ<SS sup={<I>g</I>} sub={<>{A(1)}{A(2)}{A(3)}</>} />|)</YLabel>
      <Label x={115} y={522.5}>ln(<I>λ</I>)</Label>
      <Label x={318} y={522.5}>ln(<I>λ</I>)</Label>

      <Tag x={0} y={1} t="(a)" />
      <Tag x={202} y={2} t="(b)" />
      <Tag x={0} y={179} t="(c)" />
      <Tag x={203} y={179} t="(d)" />
      <Tag x={0} y={358} t="(e)" />
      <Tag x={205} y={358} t="(f)" />
    </div>
  )
}
